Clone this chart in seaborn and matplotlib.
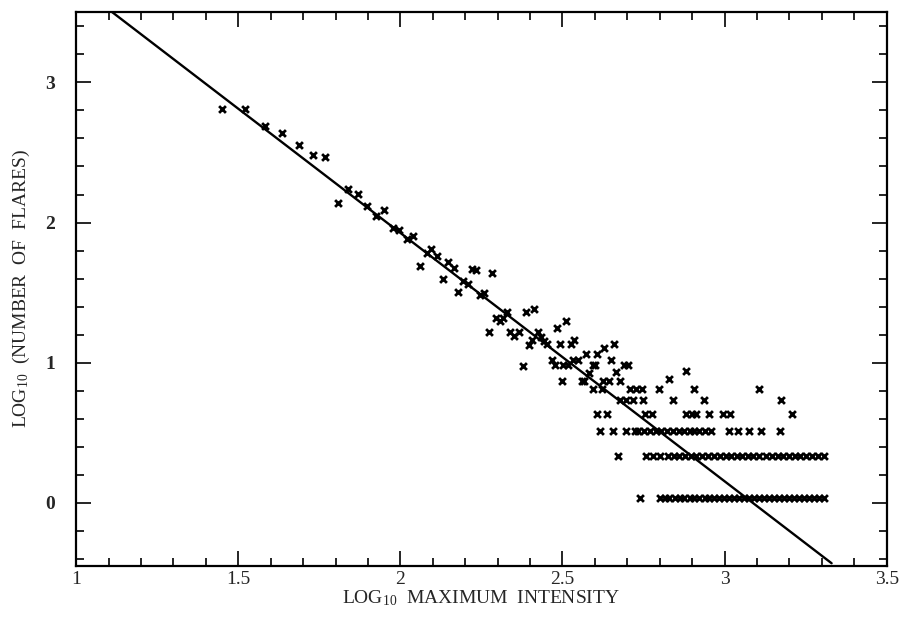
import matplotlib
matplotlib.use("Agg")
import matplotlib.pyplot as plt
from matplotlib.ticker import MultipleLocator, FuncFormatter
import numpy as np
import pandas as pd
import seaborn as sns

sns.set_theme(style="ticks")
plt.rcParams["font.family"] = ["Liberation Serif", "DejaVu Serif"]
plt.rcParams["mathtext.default"] = "regular"

# ---- data ----
# scattered flares (upper-left part of the cloud)
log_imax = [1.449, 1.520, 1.583, 1.636, 1.686, 1.730, 1.769, 1.808, 1.839, 1.870,
            1.897, 1.924, 1.949, 1.976, 1.996, 2.020, 2.038, 2.060, 2.082, 2.095,
            2.114, 2.132, 2.147, 2.164, 2.178, 2.194, 2.208, 2.221, 2.234, 2.247,
            2.259, 2.282, 2.294, 2.306, 2.318, 2.273, 2.328, 2.339, 2.351, 2.366,
            2.387, 2.412, 2.378, 2.396, 2.407, 2.423, 2.433, 2.442, 2.453, 2.484,
            2.511, 2.492, 2.525, 2.537, 2.469, 2.478, 2.502, 2.518, 2.533, 2.549,
            2.574, 2.607, 2.628, 2.659, 2.649, 2.593, 2.600, 2.690, 2.702, 2.582,
            2.666, 2.882, 2.499, 2.559, 2.567, 2.625, 2.643, 2.677, 2.828]
log_nflares = [2.808, 2.808, 2.691, 2.637, 2.550, 2.483, 2.469, 2.141, 2.239, 2.201,
               2.120, 2.046, 2.089, 1.961, 1.949, 1.880, 1.906, 1.693, 1.780, 1.809,
               1.761, 1.595, 1.717, 1.672, 1.505, 1.584, 1.562, 1.667, 1.662, 1.485,
               1.495, 1.638, 1.318, 1.294, 1.316, 1.220, 1.358, 1.220, 1.192, 1.220,
               1.361, 1.380, 0.976, 1.128, 1.164, 1.220, 1.182, 1.152, 1.136, 1.249,
               1.299, 1.134, 1.134, 1.162, 1.021, 0.982, 0.982, 0.982, 1.018, 1.018,
               1.064, 1.064, 1.102, 1.136, 1.021, 0.983, 0.983, 0.986, 0.986, 0.929,
               0.934, 0.937, 0.871, 0.871, 0.871, 0.871, 0.871, 0.871, 0.880]

# low counts form horizontal rows (N = 1, 2, 3, 4, 5, 6)
row_levels = [0.035, 0.335, 0.51, 0.635, 0.735, 0.81]
row_n1 = [2.738, 2.800, 2.815, 2.830, 2.846, 2.861, 2.876, 2.892, 2.907, 2.922,
          2.938, 2.953, 2.968, 2.984, 2.999, 3.014, 3.030, 3.045, 3.060, 3.076,
          3.091, 3.106, 3.122, 3.137, 3.152, 3.168, 3.183, 3.198, 3.214, 3.229,
          3.244, 3.260, 3.275, 3.290, 3.306]
row_n2 = [2.671, 2.759, 2.780, 2.802, 2.824, 2.843, 2.860, 2.878, 2.895, 2.913,
          2.930, 2.950, 2.968, 2.985, 3.003, 3.020, 3.037, 3.054, 3.072, 3.089,
          3.107, 3.129, 3.146, 3.164, 3.181, 3.199, 3.217, 3.234, 3.252, 3.269,
          3.287, 3.305]
row_n3 = [2.615, 2.656, 2.697, 2.723, 2.733, 2.751, 2.769, 2.787, 2.805, 2.823,
          2.841, 2.858, 2.876, 2.892, 2.905, 2.922, 2.940, 2.958, 3.013, 3.041,
          3.075, 3.112, 3.170]
row_n4 = [2.605, 2.638, 2.754, 2.775, 2.882, 2.898, 2.913, 2.952, 2.995, 3.016, 3.208]
row_n5 = [2.677, 2.697, 2.718, 2.747, 2.841, 2.937, 3.175]
row_n6 = [2.593, 2.621, 2.708, 2.726, 2.744, 2.798, 2.906, 3.105]

# least-squares power-law fit drawn through the points
fit_slope = -1.773
fit_intercept = 5.472
fit_x_range = [1.0, 3.33]

xlim = (1.0, 3.5)
ylim = (-0.45, 3.5)

# ---- assemble ----
rows = [row_n1, row_n2, row_n3, row_n4, row_n5, row_n6]
xs = list(log_imax)
ys = list(log_nflares)
for level, row in zip(row_levels, rows):
    xs += row
    ys += [level] * len(row)
df = pd.DataFrame({"log_imax": xs, "log_n": ys})

fit_x = np.array(fit_x_range)
fit_df = pd.DataFrame({"x": fit_x, "y": fit_intercept + fit_slope * fit_x})

fig = plt.figure(figsize=(9.17, 6.19), dpi=100)
ax = fig.add_axes([0.083, 0.086, 0.884, 0.894])

sns.scatterplot(data=df, x="log_imax", y="log_n", marker="x", color="black",
                s=24, linewidth=2.0, ax=ax, zorder=3)
sns.lineplot(data=fit_df, x="x", y="y", color="black", linewidth=1.7, ax=ax)

ax.set_xlim(*xlim)
ax.set_ylim(*ylim)

ax.xaxis.set_major_locator(MultipleLocator(0.5))
ax.xaxis.set_minor_locator(MultipleLocator(0.1))
ax.yaxis.set_major_locator(MultipleLocator(1))
ax.yaxis.set_minor_locator(MultipleLocator(0.2))
fmt = FuncFormatter(lambda v, p: "%g" % v)
ax.xaxis.set_major_formatter(fmt)
ax.yaxis.set_major_formatter(fmt)

for s in ax.spines.values():
    s.set_linewidth(1.6)
    s.set_color("black")
ax.tick_params(which="both", direction="in", top=True, right=True, color="black")
ax.tick_params(which="major", length=11, width=1.2, labelsize=14)
ax.tick_params(which="minor", length=5.5, width=1.2)
ax.tick_params(axis="x", which="major", pad=4)
ax.tick_params(axis="y", which="major", pad=15)
for lab in ax.get_yticklabels():
    lab.set_fontweight("bold")

ax.set_xlabel("LOG$_{10}$  MAXIMUM  INTENSITY", fontsize=14, labelpad=0)
ax.set_ylabel("LOG$_{10}$  (NUMBER  OF  FLARES)", fontsize=14, labelpad=10)
ax.grid(False)

fig.savefig("out.png", dpi=100, facecolor="white")
